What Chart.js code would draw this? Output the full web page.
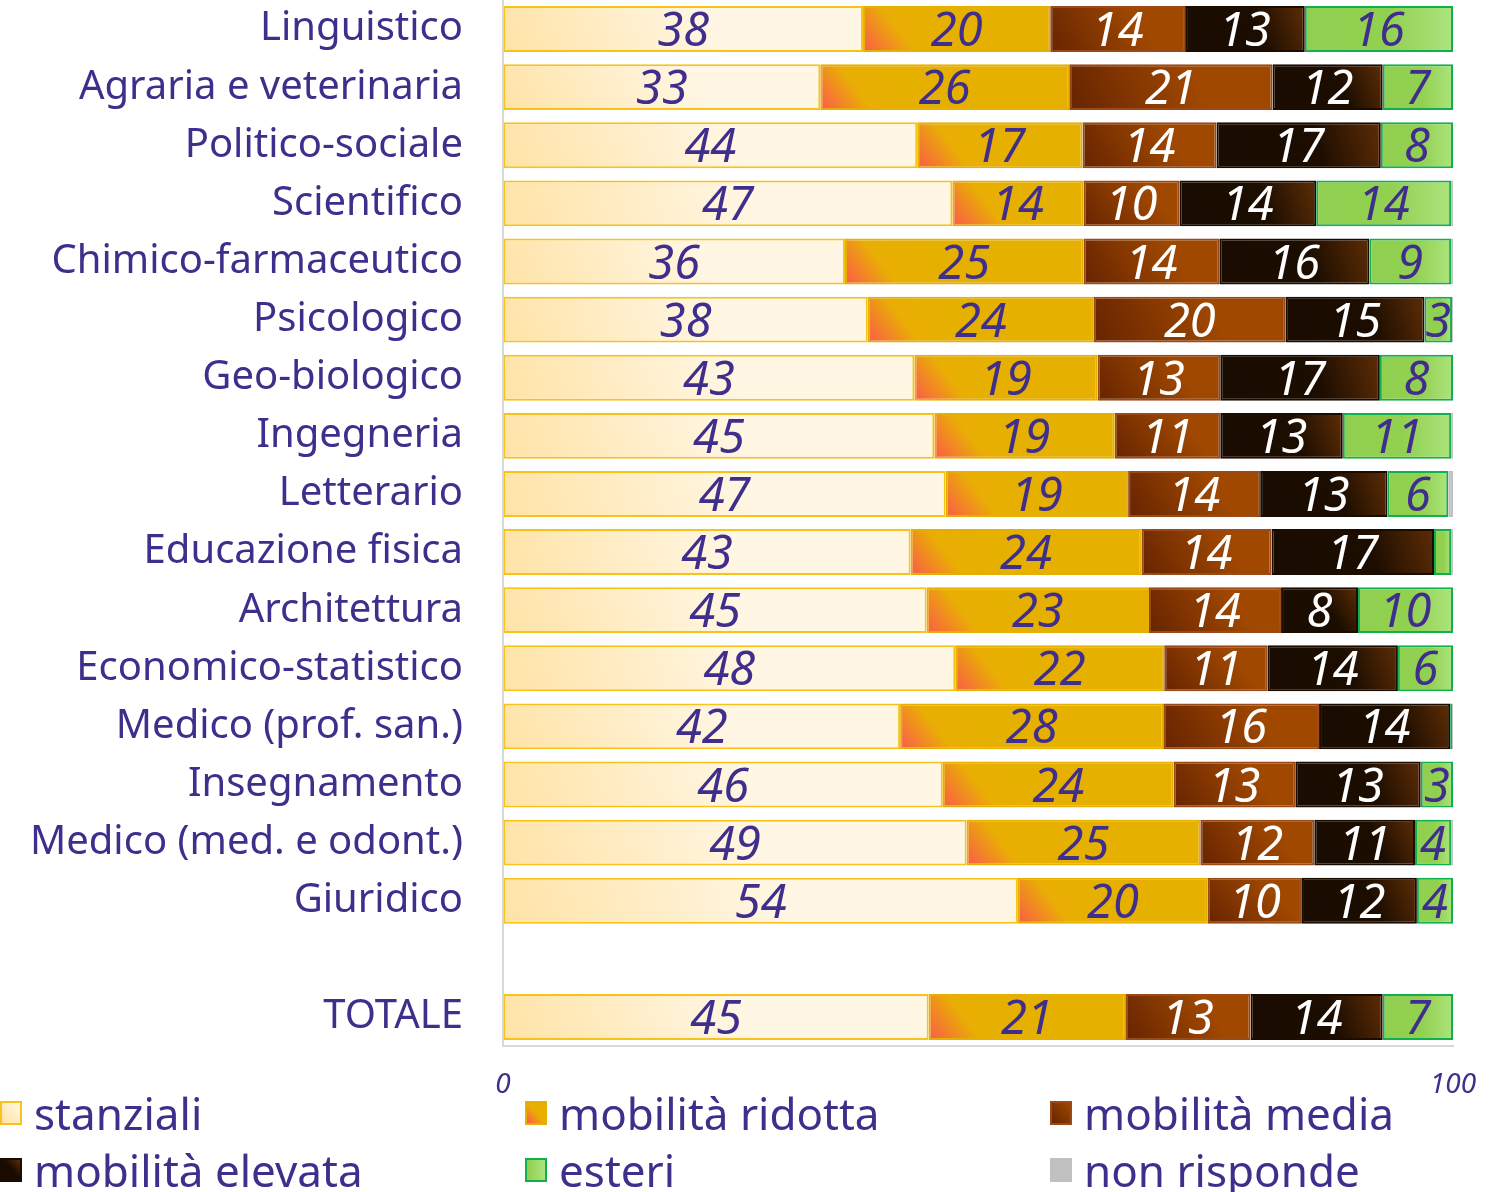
<!DOCTYPE html>
<html>
<head>
<meta charset="utf-8">
<script src="https://cdn.jsdelivr.net/npm/chart.js@4/dist/chart.umd.min.js"></script>
<style>
  html, body { margin: 0; padding: 0; background: #ffffff; }
  #wrap { position: relative; width: 1495px; height: 1192px; overflow: hidden; }
  #c { position: absolute; left: 0; top: 0; }
  .leg { position: absolute; display: flex; align-items: center; height: 56px;
         font-family: "Noto Sans", sans-serif; font-size: 44px; color: #3f2e8c; white-space: nowrap; }
  .leg .box { width: 22px; height: 24px; margin-right: 12px; box-sizing: border-box; border: 2px solid; }
</style>
</head>
<body>
<div id="wrap">
  <canvas id="c" width="1495" height="1100"></canvas>
  <div id="legend"></div>
</div>
<script>
const categories = ['Linguistico', 'Agraria e veterinaria', 'Politico-sociale', 'Scientifico',
  'Chimico-farmaceutico', 'Psicologico', 'Geo-biologico', 'Ingegneria', 'Letterario',
  'Educazione fisica', 'Architettura', 'Economico-statistico', 'Medico (prof. san.)',
  'Insegnamento', 'Medico (med. e odont.)', 'Giuridico', '', 'TOTALE'];

const seriesNames = ['stanziali', 'mobilità ridotta', 'mobilità media', 'mobilità elevata', 'esteri', 'non risponde'];

const stanziali   = [37.9, 33.4, 43.6, 47.3, 36.0, 38.4, 43.3, 45.4, 46.6, 42.9, 44.6, 47.6, 41.8, 46.3, 48.8, 54.2, null, 44.8];
const ridotta     = [19.7, 26.2, 17.4, 13.8, 25.1, 23.8, 19.3, 19.0, 19.2, 24.3, 23.4, 22.0, 27.7, 24.3, 24.6, 20.0, null, 20.7];
const media       = [14.2, 21.4, 14.1, 10.1, 14.3, 20.2, 12.9, 11.1, 13.9, 13.7, 13.9, 10.9, 16.4, 12.8, 12.0, 9.9, null, 13.2];
const elevata     = [12.6, 11.6, 17.3, 14.4, 15.8, 14.6, 16.8, 12.9, 13.4, 17.1, 8.1, 13.7, 13.8, 13.2, 10.6, 12.1, null, 13.9];
const esteri      = [15.6, 7.4, 7.6, 14.2, 8.6, 2.9, 7.7, 11.4, 6.4, 1.8, 10.0, 5.8, 0.2, 3.4, 3.8, 3.8, null, 7.4];
const nonRisponde = [0, 0, 0, 0.2, 0.2, 0.1, 0, 0.2, 0.5, 0.2, 0, 0, 0.1, 0, 0.2, 0, null, 0];

const xTickValues = [0, 100];

const TEXT = '#3f2e8c';

function barRect(c) {
  const chart = c.chart;
  const xs = chart.scales.x, ys = chart.scales.y;
  const i = c.dataIndex, d = c.datasetIndex;
  let start = 0;
  for (let k = 0; k < d; k++) start += chart.data.datasets[k].data[i] || 0;
  const v = c.raw || 0;
  const x0 = xs.getPixelForValue(start), x1 = xs.getPixelForValue(start + v);
  const yc = ys.getPixelForValue(i);
  return { x0, x1, y0: yc - 23, y1: yc + 23 };
}

function grad(kind, fallback) {
  return (c) => {
    if (c.type !== 'data' || !c.chart.chartArea || !c.chart.scales.x) return fallback;
    const g2 = c.chart.ctx;
    const r = barRect(c);
    let g;
    const w = Math.max(r.x1 - r.x0, 1);
    if (kind === 'stanziali') {
      g = g2.createLinearGradient(r.x0, r.y1, r.x0 + w * 0.5, r.y0 - 40);
      g.addColorStop(0, '#ffe3a6'); g.addColorStop(1, '#fff6e3');
    } else if (kind === 'ridotta') {
      g = g2.createLinearGradient(r.x0, r.y1, r.x0 + 60, r.y0);
      g.addColorStop(0, '#fb5a4a'); g.addColorStop(0.55, '#e9ae04'); g.addColorStop(1, '#e6b000');
    } else if (kind === 'media') {
      g = g2.createLinearGradient(r.x0, r.y1, r.x0 + w * 0.6, r.y0);
      g.addColorStop(0, '#662400'); g.addColorStop(1, '#a04800');
    } else if (kind === 'elevata') {
      g = g2.createLinearGradient(r.x0, r.y1, r.x1, r.y0);
      g.addColorStop(0, '#1a0c00'); g.addColorStop(0.6, '#1c0d00'); g.addColorStop(1, '#5e2d06');
    } else if (kind === 'esteri') {
      g = g2.createLinearGradient(r.x0, 0, r.x1, 0);
      g.addColorStop(0, '#90cf4f'); g.addColorStop(0.55, '#92d050'); g.addColorStop(1, '#ace47d');
    }
    return g;
  };
}

const datasets = [
  { label: seriesNames[0], data: stanziali,   backgroundColor: grad('stanziali', '#ffeec8'), borderColor: '#f7c21a', labelColor: TEXT },
  { label: seriesNames[1], data: ridotta,     backgroundColor: grad('ridotta', '#e6b000'),   borderColor: '#e6b000', labelColor: TEXT },
  { label: seriesNames[2], data: media,       backgroundColor: grad('media', '#8a3a00'),     borderColor: '#9a4a16', labelColor: '#ffffff' },
  { label: seriesNames[3], data: elevata,     backgroundColor: grad('elevata', '#1a0c00'),   borderColor: '#1a0c00', labelColor: '#ffffff' },
  { label: seriesNames[4], data: esteri,      backgroundColor: grad('esteri', '#92d050'),    borderColor: '#10b050', labelColor: TEXT },
  { label: seriesNames[5], data: nonRisponde, backgroundColor: '#c0c0c0', borderColor: '#c0c0c0', labelColor: TEXT, noLabel: true }
].map(d => Object.assign(d, { borderWidth: 2, borderSkipped: false, categoryPercentage: 1, barPercentage: 0.79 }));

const valueLabels = {
  id: 'valueLabels',
  afterDatasetsDraw(chart) {
    const ctx = chart.ctx;
    ctx.save();
    ctx.font = 'italic 47px "Noto Sans"';
    ctx.textAlign = 'center';
    ctx.textBaseline = 'alphabetic';
    chart.data.datasets.forEach((ds, di) => {
      if (ds.noLabel) return;
      const meta = chart.getDatasetMeta(di);
      meta.data.forEach((bar, j) => {
        const v = ds.data[j];
        if (v == null || v < 2.5) return;
        const cx = (bar.x + bar.base) / 2;
        ctx.fillStyle = ds.labelColor;
        ctx.fillText(String(Math.round(v)), cx, bar.y + 17);
      });
    });
    ctx.restore();
  }
};

new Chart(document.getElementById('c'), {
  type: 'bar',
  data: { labels: categories, datasets },
  options: {
    indexAxis: 'y',
    responsive: false,
    animation: false,
    layout: { padding: { left: 0, right: 42, top: -3, bottom: 0 } },
    plugins: { legend: { display: false }, tooltip: { enabled: false } },
    scales: {
      x: {
        stacked: true, min: 0, max: 100,
        afterBuildTicks: s => { s.ticks = xTickValues.map(v => ({ value: v })); },
        afterFit: s => { s.height = 54; s.paddingLeft = 0; s.paddingRight = 0; },
        grid: { display: true, drawOnChartArea: false, drawTicks: false },
        border: { display: true, color: '#d9d9d9', width: 2 },
        ticks: { color: TEXT, font: { family: 'Noto Sans', size: 28, style: 'italic' }, padding: 22, maxRotation: 0 }
      },
      y: {
        stacked: true,
        afterFit: s => { s.width = 503; s.paddingTop = 0; s.paddingBottom = 0; },
        grid: { display: false, drawTicks: false },
        border: { display: true, color: '#d9d9d9', width: 2 },
        ticks: { color: TEXT, font: { family: 'Noto Sans', size: 40 }, padding: 40, autoSkip: false }
      }
    }
  },
  plugins: [valueLabels]
});

// Legend (HTML) built from the series names
const legendBoxes = [
  { bg: 'linear-gradient(to top right, #ffe3a6, #fff6e3)', bd: '#f7c21a' },
  { bg: 'linear-gradient(to top right, #fb5a4a 0%, #e9ae04 50%, #e6b000 100%)', bd: '#e6b000' },
  { bg: 'linear-gradient(to top right, #662400, #a04800)', bd: '#9a4a16' },
  { bg: 'linear-gradient(to top right, #1a0c00 55%, #5e2d06)', bd: '#1a0c00' },
  { bg: 'linear-gradient(to right, #90cf4f, #ace47d)', bd: '#10b050' },
  { bg: '#c0c0c0', bd: '#c0c0c0' }
];
const legCols = [0, 525, 1050], legRows = [1085, 1142];
const legend = document.getElementById('legend');
seriesNames.forEach((name, i) => {
  const el = document.createElement('div');
  el.className = 'leg';
  el.style.left = legCols[i % 3] + 'px';
  el.style.top = legRows[Math.floor(i / 3)] + 'px';
  const b = document.createElement('span');
  b.className = 'box';
  b.style.background = legendBoxes[i].bg;
  b.style.borderColor = legendBoxes[i].bd;
  el.appendChild(b);
  const t = document.createElement('span');
  t.textContent = name;
  el.appendChild(t);
  legend.appendChild(el);
});
</script>
</body>
</html>
